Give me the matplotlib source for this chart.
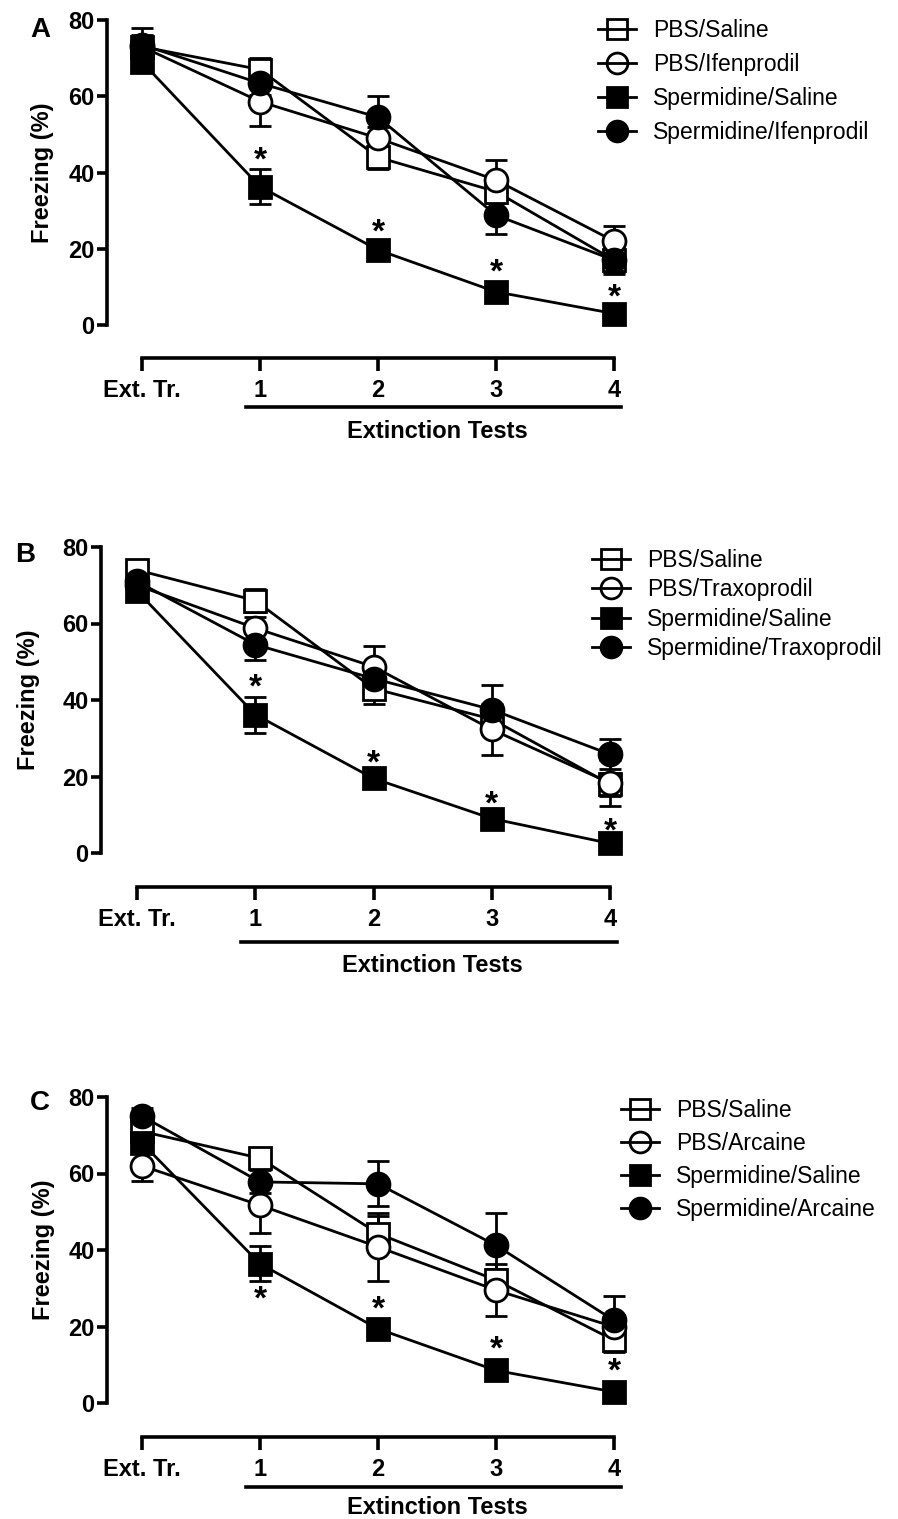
import matplotlib.pyplot as plt
import matplotlib.transforms as mtransforms
from matplotlib.lines import Line2D

plt.rcParams['font.family'] = ['Liberation Sans', 'DejaVu Sans']

x_pos = [0, 1, 2, 3, 4]
x_labels = ['Ext. Tr.', '1', '2', '3', '4']
y_ticks = [0, 20, 40, 60, 80]

# Panel A: Ifenprodil
a_names = ['PBS/Saline', 'PBS/Ifenprodil', 'Spermidine/Saline', 'Spermidine/Ifenprodil']
a_pbs_sal = [73, 67, 44, 35, 17]
a_pbs_sal_err = [3, 3, 3, 3, 3]
a_pbs_drug = [73, 58.6, 49, 38, 22]
a_pbs_drug_err = [2, 6.4, 3, 5.4, 4]
a_spd_sal = [69, 36.3, 19.7, 8.7, 3]
a_spd_sal_err = [2, 4.5, 2, 2, 1.5]
a_spd_drug = [73.5, 63.4, 54.5, 28.8, 17]
a_spd_drug_err = [4.5, 3, 5.5, 5, 3.5]
a_stars = [44.6, 25.8, 15.3, 8.7]

# Panel B: Traxoprodil
b_names = ['PBS/Saline', 'PBS/Traxoprodil', 'Spermidine/Saline', 'Spermidine/Traxoprodil']
b_pbs_sal = [74, 66, 43, 35, 18]
b_pbs_sal_err = [2, 3, 4, 2, 3]
b_pbs_drug = [70, 58.8, 48.7, 32.3, 18.3]
b_pbs_drug_err = [2, 3, 5.4, 6.7, 5.9]
b_spd_sal = [68.5, 36.2, 19.5, 9, 2.5]
b_spd_sal_err = [2, 4.7, 2, 2, 1.5]
b_spd_drug = [71, 54.5, 45.6, 37.5, 25.8]
b_spd_drug_err = [2, 4, 3, 6.3, 3.9]
b_stars = [44.9, 25, 14.2, 7.2]

# Panel C: Arcaine
c_names = ['PBS/Saline', 'PBS/Arcaine', 'Spermidine/Saline', 'Spermidine/Arcaine']
c_pbs_sal = [71, 64, 44.3, 32.1, 16.4]
c_pbs_sal_err = [3, 2, 4.7, 3, 3]
c_pbs_drug = [62, 51.7, 40.8, 29.5, 19.9]
c_pbs_drug_err = [3.9, 7.3, 9, 6.8, 3]
c_spd_sal = [68, 36.4, 19.4, 8.5, 2.9]
c_spd_sal_err = [2, 4.6, 2, 2, 1.5]
c_spd_drug = [75, 57.8, 57.3, 41.2, 21.6]
c_spd_drug_err = [2, 3, 5.9, 8.5, 6.5]
c_stars = [28.6, 26, 15.5, 9.8]

W, H = 898, 1519
fig = plt.figure(figsize=(W / 100, H / 100), dpi=100)

styles = [('s', 'white'), ('o', 'white'), ('s', 'black'), ('o', 'black')]
star_fs = 24


def panel(letter, names, series, errs, stars, geo, leg, ylab_x):
    x0, x4, left, y80, y0, bottom, under, lab = geo
    ppx = (x4 - x0) / 4
    ppy = (y0 - y80) / 80
    right = 660
    top = y80 - 12
    ax = fig.add_axes([left / W, 1 - bottom / H, (right - left) / W, (bottom - top) / H])
    ax.set_xlim((left - x0) / ppx, (right - x0) / ppx)
    ax.set_ylim(-(bottom - y0) / ppy, 80 + 12 / ppy)

    for (m, fc), y, e in zip(styles, series, errs):
        ax.errorbar(x_pos, y, yerr=e, color='black', lw=2, elinewidth=2,
                    capsize=8, capthick=2, fmt='none', zorder=2)
        ax.plot(x_pos, y, color='black', lw=2, zorder=2)
    for (m, fc), y in zip(styles, series):
        ax.plot(x_pos, y, linestyle='none', marker=m, ms=16.5, mfc=fc,
                mec='black', mew=2, zorder=3)

    for xi, ys in zip(x_pos[1:], stars):
        ax.annotate('*', (xi, ys), xytext=(0, -0.45 * star_fs), textcoords='offset points',
                    ha='center', va='baseline', fontsize=star_fs, fontweight='bold')

    for s in ['top', 'right']:
        ax.spines[s].set_visible(False)
    ax.spines['left'].set_bounds(0, 80)
    ax.spines['bottom'].set_bounds(0, 4)
    ax.spines['left'].set_linewidth(2.6)
    ax.spines['bottom'].set_linewidth(2.6)
    ax.set_yticks(y_ticks)
    ax.set_xticks(x_pos)
    ax.set_xticklabels(x_labels)
    ax.tick_params(axis='y', direction='out', length=7, width=2.6, pad=2, labelsize=17)
    ax.tick_params(axis='x', direction='out', length=9, width=2.6, pad=6, labelsize=17)
    for t in ax.get_xticklabels() + ax.get_yticklabels():
        t.set_fontweight('bold')
    ax.set_ylabel('Freezing (%)', fontsize=17, fontweight='bold')
    y_lo, y_hi = ax.get_ylim()
    ax.yaxis.set_label_coords((ylab_x - left) / (right - left), (40 - y_lo) / (y_hi - y_lo))

    trans = mtransforms.blended_transform_factory(ax.transData, ax.transAxes)
    off = mtransforms.ScaledTranslation(0, -under / 100, fig.dpi_scale_trans)
    ax.add_line(Line2D([0.88, 4.06], [0, 0], color='black', lw=2.6,
                       transform=trans + off, clip_on=False))
    off2 = mtransforms.ScaledTranslation(0, -lab / 100, fig.dpi_scale_trans)
    ax.text(2.5, 0, 'Extinction Tests', transform=trans + off2, ha='center',
            va='center', fontsize=17, fontweight='bold')

    lx, ly, spacing = leg
    handles = [Line2D([], [], color='black', lw=2, marker=m, ms=15,
                      mfc='none' if fc == 'white' else 'black', mec='black', mew=2)
               for m, fc in styles]
    ax.legend(handles, names, loc='upper left', bbox_to_anchor=(lx / W, 1 - ly / H),
              bbox_transform=fig.transFigure, frameon=False, fontsize=16.5,
              handlelength=1.66, handletextpad=0.75, labelspacing=spacing,
              borderpad=0, borderaxespad=0)

    fig.text(letter[1] / W, 1 - letter[2] / H, letter[0], ha='center', va='center',
             fontsize=20, fontweight='bold')
    return ax


panel(('A', 40, 30), a_names,
      [a_pbs_sal, a_pbs_drug, a_spd_sal, a_spd_drug],
      [a_pbs_sal_err, a_pbs_drug_err, a_spd_sal_err, a_spd_drug_err],
      a_stars, (142, 614, 107, 20, 325, 358, 49, 74), (598, 19, 0.48), 54)
panel(('B', 25, 555), b_names,
      [b_pbs_sal, b_pbs_drug, b_spd_sal, b_spd_drug],
      [b_pbs_sal_err, b_pbs_drug_err, b_spd_sal_err, b_spd_drug_err],
      b_stars, (137, 610, 101, 547, 853, 887, 55, 78), (592, 549, 0.28), 40)
panel(('C', 40, 1103), c_names,
      [c_pbs_sal, c_pbs_drug, c_spd_sal, c_spd_drug],
      [c_pbs_sal_err, c_pbs_drug_err, c_spd_sal_err, c_spd_drug_err],
      c_stars, (142, 614, 107, 1097, 1403, 1437, 50, 71), (621, 1099, 0.43), 55)

fig.savefig('out.png', dpi=100, facecolor='white')
